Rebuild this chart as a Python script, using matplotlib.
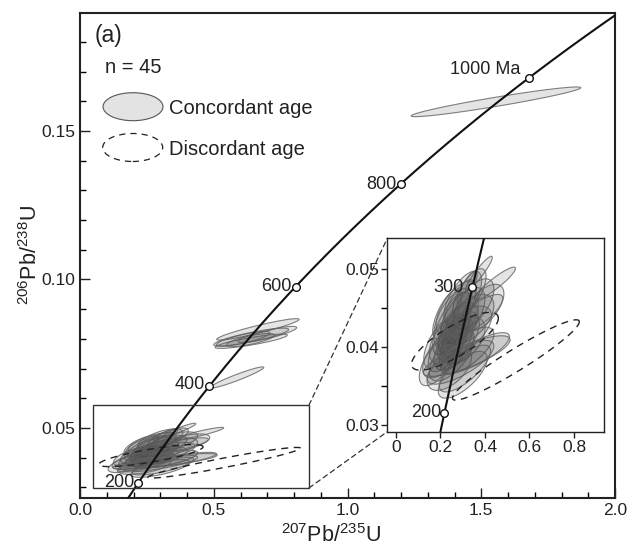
import numpy as np
import matplotlib
matplotlib.use('Agg')
import matplotlib.pyplot as plt
from matplotlib.patches import Polygon, Ellipse, Rectangle, ConnectionPatch
from matplotlib.ticker import MultipleLocator, FormatStrFormatter, FuncFormatter

plt.rcParams['font.family'] = ['Liberation Sans', 'DejaVu Sans']
plt.rcParams['mathtext.fontset'] = 'custom'
plt.rcParams['mathtext.rm'] = 'Liberation Sans'
plt.rcParams['mathtext.it'] = 'Liberation Sans:italic'
plt.rcParams['mathtext.bf'] = 'Liberation Sans:bold'

# ---------------- data ----------------
# concordant ellipses: centre 207Pb/235U, centre 206Pb/238U, half-extent x, half-extent y, rho
conc_x = [1.555, 0.587, 0.665, 0.640, 0.640, 0.637, 0.700, 0.610,
          0.373, 0.445, 0.330, 0.300, 0.350, 0.390, 0.270, 0.300, 0.330, 0.250,
          0.280, 0.310, 0.260, 0.290, 0.240, 0.300, 0.270, 0.230, 0.260, 0.320,
          0.210, 0.250, 0.318, 0.190, 0.310, 0.290, 0.240, 0.300, 0.360, 0.230,
          0.285, 0.360, 0.200, 0.320, 0.270]
conc_y = [0.1598, 0.0670, 0.0832, 0.0806, 0.0792, 0.0796, 0.0815, 0.0800,
          0.0494, 0.0481, 0.0468, 0.0462, 0.0455, 0.0450, 0.0450, 0.0440, 0.0435, 0.0430,
          0.0425, 0.0420, 0.0418, 0.0415, 0.0410, 0.0408, 0.0405, 0.0400, 0.0398, 0.0395,
          0.0390, 0.0388, 0.0388, 0.0382, 0.0372, 0.0380, 0.0372, 0.0364, 0.0440, 0.0442,
          0.0458, 0.0392, 0.0405, 0.0475, 0.0435]
conc_sx = [0.317, 0.100, 0.154, 0.140, 0.135, 0.090, 0.110, 0.100,
           0.060, 0.092, 0.075, 0.085, 0.090, 0.095, 0.090, 0.100, 0.110, 0.085,
           0.090, 0.120, 0.075, 0.085, 0.090, 0.100, 0.075, 0.085, 0.090, 0.120,
           0.090, 0.100, 0.195, 0.085, 0.115, 0.150, 0.100, 0.110, 0.120, 0.065,
           0.065, 0.150, 0.075, 0.045, 0.100]
conc_sy = [0.0050, 0.00357, 0.0036, 0.0030, 0.0024, 0.0022, 0.0027, 0.0025,
           0.0022, 0.0021, 0.0032, 0.0035, 0.0032, 0.0030, 0.0034, 0.0036, 0.0032, 0.0040,
           0.0032, 0.0032, 0.0035, 0.0030, 0.0032, 0.0030, 0.0034, 0.0032, 0.0028, 0.0030,
           0.0030, 0.0032, 0.0026, 0.0032, 0.0030, 0.0028, 0.0028, 0.0030, 0.0027, 0.0032,
           0.0028, 0.0026, 0.0032, 0.0022, 0.0040]
conc_rho = [0.95, 0.952, 0.93, 0.85, 0.85, 0.75, 0.85, 0.80,
            0.93, 0.92, 0.70, 0.65, 0.60, 0.60, 0.65, 0.60, 0.55, 0.70,
            0.55, 0.60, 0.65, 0.50, 0.55, 0.50, 0.60, 0.65, 0.55, 0.70,
            0.60, 0.65, 0.80, 0.65, 0.75, 0.75, 0.55, 0.70, 0.80, 0.70,
            0.75, 0.80, 0.65, 0.80, 0.50]

# discordant ellipses
disc_x = [0.265, 0.539]
disc_y = [0.0407, 0.0383]
disc_sx = [0.195, 0.285]
disc_sy = [0.0037, 0.00515]
disc_rho = [0.80, 0.95]

# concordia ages (Ma)
main_ages = [200, 400, 600, 800, 1000]
main_age_labels = ['200', '400', '600', '800', '1000 Ma']
inset_ages = [200, 300]
inset_age_labels = ['200', '300']

L238 = 1.55125e-10
L235 = 9.8485e-10


def concordia(t_ma):
    t = np.asarray(t_ma, dtype=float) * 1e6
    return np.exp(L235 * t) - 1, np.exp(L238 * t) - 1


def ellipse_pts(cx, cy, sx, sy, r, n=240):
    th = np.linspace(0, 2 * np.pi, n)
    x = cx + sx * np.cos(th)
    y = cy + sy * (r * np.cos(th) + np.sqrt(1 - r * r) * np.sin(th))
    return np.column_stack([x, y])


FACE = (0.30, 0.30, 0.30, 0.15)
EDGE = (0.38, 0.38, 0.38, 0.8)


def draw_ellipses(ax, lw=0.8):
    for cx, cy, sx, sy, r in zip(conc_x, conc_y, conc_sx, conc_sy, conc_rho):
        ax.add_patch(Polygon(ellipse_pts(cx, cy, sx, sy, r), closed=True,
                             fc=FACE, ec=EDGE, lw=lw, zorder=2))
    for cx, cy, sx, sy, r in zip(disc_x, disc_y, disc_sx, disc_sy, disc_rho):
        ax.add_patch(Polygon(ellipse_pts(cx, cy, sx, sy, r), closed=True,
                             fc='none', ec='#222222', lw=1.0, ls=(0, (5, 4)), zorder=2))


fig = plt.figure(figsize=(6.28, 5.49), dpi=100)
ax = fig.add_axes([80 / 628, 1 - 498 / 549, 535 / 628, 485 / 549])
ax.set_xlim(0, 2.0)
ax.set_ylim(0.02643, 0.1897)

draw_ellipses(ax)

tc = np.linspace(100, 1400, 600)
cx_, cy_ = concordia(tc)
ax.plot(cx_, cy_, color='#111111', lw=1.5, zorder=3)
mx, my = concordia(main_ages)
ax.plot(mx, my, 'o', ms=5.5, mfc='white', mec='#111111', mew=1.0, zorder=4)
offs = [(-3, 0), (-3, 1), (-3, 0), (-3, 0), (-6, 6)]
for x, y, lab, o in zip(mx, my, main_age_labels, offs):
    ax.annotate(lab, xy=(x, y), xytext=o, textcoords='offset points',
                ha='right', va='center', fontsize=13, color='#222222', zorder=5)

ax.xaxis.set_major_locator(MultipleLocator(0.5))
ax.xaxis.set_minor_locator(MultipleLocator(0.1))
ax.yaxis.set_major_locator(MultipleLocator(0.05))
ax.yaxis.set_minor_locator(MultipleLocator(0.01))
ax.xaxis.set_major_formatter(FormatStrFormatter('%.1f'))
ax.yaxis.set_major_formatter(FormatStrFormatter('%.2f'))
ax.tick_params(which='major', direction='in', length=7, width=1.0, labelsize=12.5,
               colors='#222222')
ax.tick_params(which='minor', direction='in', length=4, width=1.0)
for s in ax.spines.values():
    s.set_linewidth(1.5)
    s.set_color('#222222')

ax.set_xlabel(r'$^{207}$Pb/$^{235}$U', fontsize=15.5, color='#222222')
ax.set_ylabel(r'$^{206}$Pb/$^{238}$U', fontsize=15.5, color='#222222')
ax.xaxis.set_label_coords(0.469, -0.078)
ax.xaxis.label.set_va('center')
ax.yaxis.set_label_coords(-0.092, 0.501)
ax.yaxis.label.set_va('center')

# legend-like annotations
ax.text(0.028, 0.9546, '(a)', transform=ax.transAxes, fontsize=16.5, va='center',
        ha='left', color='#222222')
ax.text(0.0467, 0.8876, 'n = 45', transform=ax.transAxes, fontsize=14.5, va='center',
        ha='left', color='#222222')
ax.add_patch(Ellipse((0.0991, 0.8068), 0.1121, 0.0577, transform=ax.transAxes,
                     fc='#e3e3e3', ec='#555555', lw=0.8, zorder=5))
ax.add_patch(Ellipse((0.0985, 0.7227), 0.1121, 0.0577, transform=ax.transAxes,
                     fc='none', ec='#222222', lw=0.9, ls=(0, (5, 4)), zorder=5))
ax.text(0.1669, 0.8035, 'Concordant age', transform=ax.transAxes, fontsize=14.5,
        va='center', ha='left', color='#222222')
ax.text(0.1669, 0.719, 'Discordant age', transform=ax.transAxes, fontsize=14.5,
        va='center', ha='left', color='#222222')

# zoom box
bx0, bx1, by0, by1 = 0.049, 0.856, 0.0298, 0.0577
ax.add_patch(Rectangle((bx0, by0), bx1 - bx0, by1 - by0, fc='none', ec='#333333',
                       lw=1.0, zorder=6))

# inset
axi = fig.add_axes([387.3 / 628, 1 - 431.7 / 549, (604 - 387.3) / 628,
                    (431.7 - 238.3) / 549])
axi.set_xlim(-0.039, 0.935)
axi.set_ylim(0.0291, 0.0539)
draw_ellipses(axi)
axi.plot(cx_, cy_, color='#111111', lw=1.5, zorder=3)
ix, iy = concordia(inset_ages)
axi.plot(ix, iy, 'o', ms=5.5, mfc='white', mec='#111111', mew=1.0, zorder=4)
ioffs = [(-2.5, 0), (-6.5, 0)]
for x, y, lab, o in zip(ix, iy, inset_age_labels, ioffs):
    axi.annotate(lab, xy=(x, y), xytext=o, textcoords='offset points',
                 ha='right', va='center', fontsize=13, color='#222222', zorder=5)
axi.xaxis.set_major_locator(MultipleLocator(0.2))
axi.yaxis.set_major_locator(MultipleLocator(0.01))
axi.yaxis.set_minor_locator(MultipleLocator(0.005))
axi.xaxis.set_major_formatter(FuncFormatter(lambda v, p: '0' if abs(v) < 1e-9 else f'{v:.1f}'))
axi.yaxis.set_major_formatter(FormatStrFormatter('%.2f'))
axi.tick_params(which='major', direction='out', length=4, width=1.0, labelsize=12.5,
                colors='#222222', pad=2)
axi.tick_params(which='minor', direction='out', length=4, width=1.0)
for s in axi.spines.values():
    s.set_linewidth(1.0)
    s.set_color('#222222')

for xyA, xyB in [((bx1, by1), (0, 1)), ((bx1, by0), (0, 0))]:
    cp = ConnectionPatch(xyA=xyA, coordsA=ax.transData, xyB=xyB, coordsB=axi.transAxes,
                         color='#333333', lw=0.9, ls=(0, (4, 3)))
    fig.add_artist(cp)

fig.savefig('out.png', dpi=100)
